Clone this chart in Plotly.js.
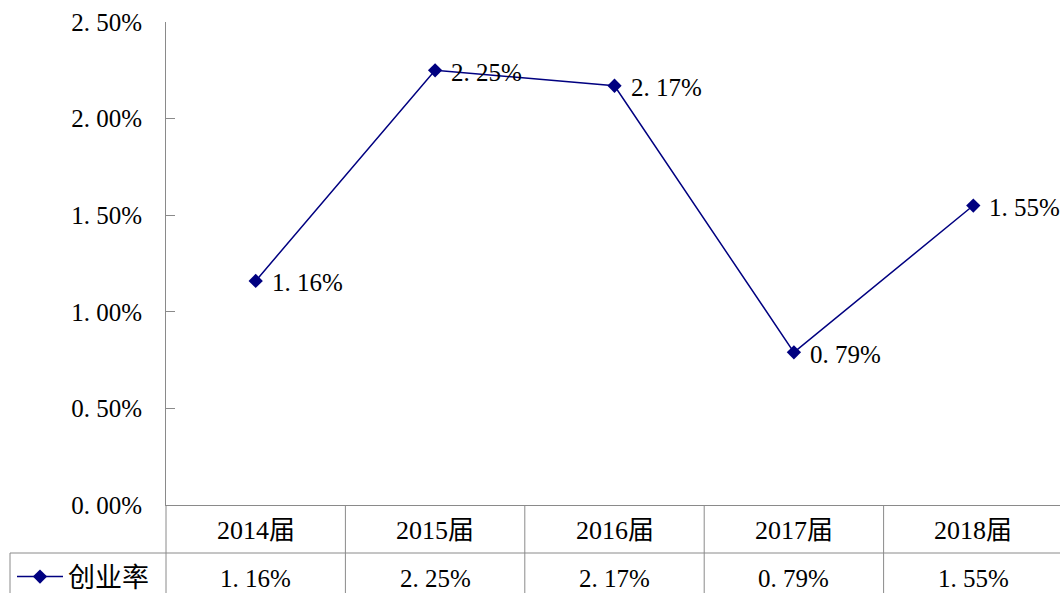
<!DOCTYPE html>
<html><head><meta charset="utf-8">
<script src="https://cdn.plot.ly/plotly-3.0.1.min.js"></script>
<style>html,body{margin:0;padding:0;overflow:hidden;background:#fff}</style>
</head><body><div id="chart"></div>
<script>
const categories = ['2014届', '2015届', '2016届', '2017届', '2018届'];
const seriesName = '创业率';
const rates = [1.16, 2.25, 2.17, 0.79, 1.55];
const yTickValues = [0, 0.5, 1.0, 1.5, 2.0, 2.5];

const fmt = v => v.toFixed(2).replace('.', '. ') + '%';
const FONT = "'Liberation Serif', 'Noto Sans CJK SC', serif";
const GRAY = '#8a8a8a';
const NAVY = '#000080';

const W = 1070, H = 593, ML = 166, MR = 7, MT = 22, MB = 88;
const PW = W - ML - MR, PH = H - MT - MB;
const py = p => (H - MB - p) / PH;   // pixel y -> paper y
const px = p => (p - ML) / PW;       // pixel x -> paper x

const shapes = [];
const line = (o) => shapes.push(Object.assign({type: 'line', line: {color: GRAY, width: 1}}, o));
line({xref: 'paper', yref: 'paper', x0: 0, x1: 0, y0: 0, y1: py(600)});
for (let i = 0; i < categories.length - 1; i++) {
  line({xref: 'x', yref: 'paper', x0: i + 0.5, x1: i + 0.5, y0: 0, y1: py(600)});
}
line({xref: 'paper', yref: 'paper', x0: px(10), x1: 1, y0: py(553), y1: py(553)});
line({xref: 'paper', yref: 'paper', x0: px(10), x1: px(10), y0: py(553), y1: py(600)});

const annotations = [];
categories.forEach((c, i) => {
  annotations.push({xref: 'x', yref: 'paper', x: c, y: py(530), text: c, showarrow: false,
    font: {family: FONT, size: 26, color: '#000'}, xanchor: 'center', yanchor: 'middle'});
  annotations.push({xref: 'x', yref: 'paper', x: c, y: py(578), text: fmt(rates[i]), showarrow: false,
    font: {family: FONT, size: 25, color: '#000'}, xanchor: 'center', yanchor: 'middle'});
  // data labels next to the points
  annotations.push({xref: 'x', yref: 'y', x: c, y: rates[i], text: fmt(rates[i]), showarrow: false,
    font: {family: FONT, size: 25, color: '#000'}, xanchor: 'left', yanchor: 'middle',
    xshift: 14, yshift: -2});
});

const trace = {
  type: 'scatter', mode: 'lines+markers', name: seriesName,
  x: categories, y: rates,
  line: {color: NAVY, width: 1.5},
  marker: {symbol: 'diamond', size: 11, color: NAVY},
  cliponaxis: false
};

const layout = {
  width: W, height: H,
  margin: {l: ML, r: MR, t: MT, b: MB, pad: 0, autoexpand: false},
  paper_bgcolor: '#fff', plot_bgcolor: '#fff',
  font: {family: FONT, color: '#000'},
  showlegend: true,
  legend: {x: px(12), y: py(577), xanchor: 'left', yanchor: 'middle',
    itemwidth: 46,
    bgcolor: 'rgba(0,0,0,0)', borderwidth: 0,
    font: {family: FONT, size: 27, color: '#000'}},
  xaxis: {type: 'category', range: [-0.5, categories.length - 0.5],
    showticklabels: false, ticks: '', showgrid: false, zeroline: false,
    showline: true, linecolor: GRAY, linewidth: 1, fixedrange: true},
  yaxis: {range: [0, 2.5], tickvals: yTickValues, ticktext: yTickValues.map(fmt),
    ticks: 'inside', ticklen: 9, tickcolor: GRAY, tickwidth: 1,
    ticklabelstandoff: 18,
    tickfont: {family: FONT, size: 25, color: '#000'},
    showgrid: false, zeroline: false, showline: true, linecolor: GRAY, linewidth: 1, fixedrange: true},
  shapes: shapes, annotations: annotations
};

Plotly.newPlot('chart', [trace], layout, {staticPlot: true, displayModeBar: false});
</script>
</body></html>
